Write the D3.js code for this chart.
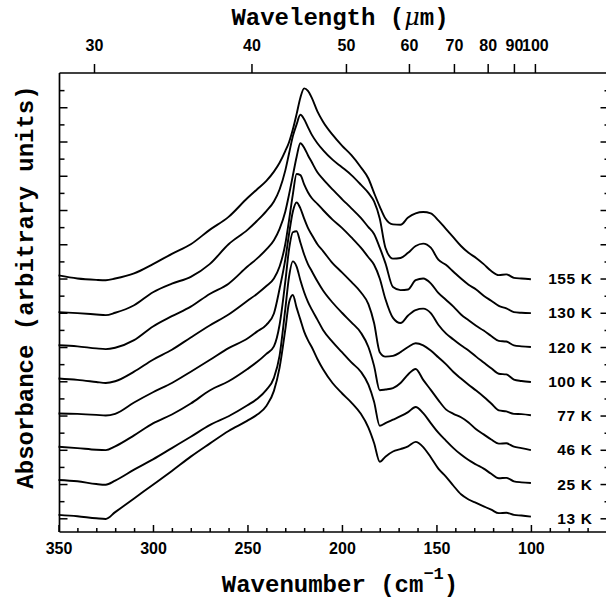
<!DOCTYPE html>
<html><head><meta charset="utf-8">
<script src="https://cdn.jsdelivr.net/npm/d3@7"></script>
<style>body{margin:0;background:#fff}svg{display:block}</style>
</head><body>
<svg id="c" width="606" height="604"></svg>
<script>
// ---- data ----
const wavenumbers = [350,340,330,325,320,310,300,290,280,270,260,250,245,240,236,233,230,228,226,224,222,220,218,216,213,210,205,200,195,190,186,183,180,177,173,169,165,161,157,153,149,145,141,137,133,129,125,121,117,113,109,105,100];
const temperatures = ["13 K","25 K","46 K","77 K","100 K","120 K","130 K","155 K"];
const abs13K = [0.10,0.06,0.00,-0.02,0.18, 0.58,0.98,1.38,1.80,2.18, 2.55,2.85,3.02,3.28,3.72, 4.40,5.50,6.30,6.52,6.15, 5.80,5.45,5.20,5.00,4.65, 4.35,3.95,3.65,3.38,3.05, 2.65,2.20,1.65,1.80,1.95, 2.02,2.10,2.23,2.08,1.78, 1.45,1.22,0.95,0.70,0.55, 0.45,0.35,0.25,0.15,0.16, 0.10,0.08,0.05];
const abs25K = [0.12,0.08,0.00,-0.02,0.10, 0.42,0.72,1.05,1.38,1.72, 1.98,2.30,2.48,2.75,3.10, 3.75,5.10,6.05,6.50,6.35, 5.95,5.60,5.32,5.10,4.80, 4.50,4.15,3.85,3.55,3.28, 2.90,2.40,1.70,1.78,1.88, 1.98,2.10,2.25,2.07,1.78, 1.50,1.27,1.05,0.86,0.70, 0.57,0.45,0.30,0.17,0.18, 0.08,0.05,0.03];
const abs46K = [0.09,0.05,0.00,-0.01,0.10, 0.42,0.77,1.03,1.35,1.73, 2.00,2.36,2.56,2.80,3.02, 3.65,4.90,5.85,6.35,6.38, 6.05,5.70,5.42,5.22,4.92, 4.65,4.30,4.00,3.72,3.42, 3.00,2.45,1.74,1.76,1.80, 1.95,2.20,2.36,2.04,1.75, 1.45,1.18,1.05,0.95,0.80, 0.60,0.45,0.30,0.18,0.19, 0.09,0.05,-0.01];
const abs77K = [0.06,0.05,0.02,0.00,0.05, 0.38,0.68,0.95,1.28,1.62, 1.97,2.25,2.45,2.65,2.98, 3.70,4.55,5.30,5.95,6.22, 6.05,5.75,5.48,5.28,5.00, 4.80,4.45,4.18,3.90,3.60, 3.25,2.70,1.85,1.72,1.74, 1.85,2.00,2.11,2.05,1.90, 1.70,1.50,1.27,1.08,0.90, 0.73,0.55,0.35,0.15,0.12, 0.05,0.04,0.01];
const abs100K = [0.08,0.04,-0.02,-0.05,0.00, 0.28,0.63,0.92,1.28,1.63, 1.95,2.35,2.55,2.78,3.00, 3.35,4.00,4.70,5.45,6.05, 6.02,5.75,5.52,5.35,5.18, 5.00,4.72,4.48,4.20,3.90, 3.62,3.40,3.00,2.40,1.85, 1.70,1.92,2.08,2.12,1.99, 1.65,1.40,1.22,1.05,0.90, 0.72,0.55,0.38,0.22,0.20, 0.05,0.01,-0.02];
const abs120K = [0.05,0.02,-0.04,-0.06,-0.02, 0.20,0.60,0.90,1.18,1.55, 1.85,2.35,2.58,2.85,3.12, 3.45,3.95,4.45,5.00,5.55, 5.95,5.82,5.60,5.40,5.10, 4.90,4.60,4.32,4.05,3.77, 3.50,3.30,2.90,2.45,1.75, 1.66,1.68,1.95,2.00,1.86, 1.58,1.38,1.18,0.95,0.78, 0.62,0.48,0.32,0.18,0.16, 0.05,0.02,0.00];
const abs130K = [0.02,-0.01,-0.05,-0.07,0.00, 0.22,0.60,0.85,1.05,1.42, 2.00,2.42,2.68,2.97,3.25, 3.60,4.15,4.65,5.15,5.50, 5.78,5.65,5.42,5.20,4.95, 4.75,4.47,4.25,4.02,3.74, 3.50,3.25,2.75,1.90,1.58, 1.60,1.75,1.95,2.02,1.90, 1.55,1.40,1.20,1.00,0.82, 0.68,0.50,0.35,0.20,0.13, 0.02,0.00,-0.01];
const abs155K = [0.09,0.00,-0.04,-0.05,0.00, 0.15,0.42,0.72,1.00,1.42, 1.80,2.35,2.60,2.85,3.12, 3.38,3.72,3.98,4.35,4.80, 5.28,5.55,5.48,5.28,4.88, 4.58,4.20,3.88,3.60,3.25, 2.92,2.50,2.10,1.75,1.58, 1.57,1.78,1.90,1.94,1.90, 1.70,1.45,1.20,0.95,0.75, 0.60,0.42,0.22,0.10,0.12, 0.02,0.00,-0.02];
const spectra = [abs13K,abs25K,abs46K,abs77K,abs100K,abs120K,abs130K,abs155K];
const wavenumberTicks = [350,300,250,200,150,100];
const wavelengthTicks = [30,40,50,60,70,80,90,100];

// ---- layout ----
const svg = d3.select("#c");
const L = 59.5, R = 606.5, T = 73, B = 532;
const x = d3.scaleLinear().domain([350,60]).range([58.5, R]);
const y = d3.scaleLinear().domain([-0.4,13]).range([B, T]);
const sans = "'Liberation Sans', Arial, sans-serif";
const mono = "'Liberation Mono', 'Courier New', monospace";

// frame
const frame = svg.append("g").attr("stroke","#000").attr("stroke-width",1.7).attr("fill","none");
frame.append("line").attr("x1",L).attr("x2",R).attr("y1",T).attr("y2",T);
frame.append("line").attr("x1",L).attr("x2",R).attr("y1",B).attr("y2",B);
frame.append("line").attr("x1",L).attr("x2",L).attr("y1",T).attr("y2",B);

function styleAxis(g){
  g.select(".domain").remove();
  g.selectAll(".tick line").attr("stroke","#000").attr("stroke-width",1.5);
  g.selectAll(".tick text").attr("fill","#000").attr("font-family",sans).attr("font-weight","bold").attr("font-size",16);
}

// bottom axis: major ticks with labels, minor ticks every 10
svg.append("g").attr("transform",`translate(0,${B})`)
  .call(d3.axisBottom(x).tickValues(wavenumberTicks).tickSizeInner(-7).tickSizeOuter(0).tickPadding(11).tickFormat(d3.format("d")))
  .call(styleAxis);
svg.append("g").attr("transform",`translate(0,${B})`)
  .call(d3.axisBottom(x).tickValues(d3.range(70,350,10).filter(v=>v%50!==0)).tickSizeInner(-4).tickSizeOuter(0).tickFormat(""))
  .call(styleAxis);

// top axis: wavelength in micrometres
svg.append("g").attr("transform",`translate(4,${T})`)
  .call(d3.axisTop(x).tickValues(wavelengthTicks.map(m=>1e4/m)).tickSizeInner(9).tickSizeOuter(0).tickPadding(13)
        .tickFormat((d,i)=>wavelengthTicks[i]))
  .call(styleAxis);

// left axis ticks (inward)
const yMajor = d3.range(0,13,1), yMinor = d3.range(0.5,13,1);
svg.append("g").attr("transform",`translate(${L},0)`)
  .call(d3.axisRight(y).tickValues(yMajor).tickSizeInner(8).tickSizeOuter(0).tickFormat("")).call(styleAxis);
svg.append("g").attr("transform",`translate(${L},0)`)
  .call(d3.axisRight(y).tickValues(yMinor).tickSizeInner(5).tickSizeOuter(0).tickFormat("")).call(styleAxis);
// right axis ticks (inward)
svg.append("g").attr("transform",`translate(${R},0)`)
  .call(d3.axisLeft(y).tickValues(yMajor).tickSizeInner(6).tickSizeOuter(0).tickFormat("")).call(styleAxis);
svg.append("g").attr("transform",`translate(${R},0)`)
  .call(d3.axisLeft(y).tickValues(yMinor).tickSizeInner(2).tickSizeOuter(0).tickFormat("")).call(styleAxis);

// spectra, each offset by one unit
const line = d3.line().x(d=>x(d[0])).y(d=>y(d[1])).curve(d3.curveMonotoneX);
spectra.forEach((vals,i)=>{
  const pts = wavenumbers.map((w,k)=>[w, vals[k]+i]);
  svg.append("path").datum(pts).attr("d",line)
    .attr("fill","none").attr("stroke","#000").attr("stroke-width",1.9).attr("stroke-linejoin","round");
  svg.append("text").attr("x",592.5).attr("y",y(i)).attr("dy","0.36em")
    .attr("text-anchor","end").attr("font-family",sans).attr("font-weight","bold").attr("font-size",15.5)
    .attr("letter-spacing",0.6).text(temperatures[i]);
});

// titles
svg.append("text").attr("x",340).attr("y",25).attr("text-anchor","middle")
  .attr("font-family",mono).attr("font-weight","bold").attr("font-size",24)
  .call(t=>{ t.append("tspan").text("Wavelength (");
             t.append("tspan").attr("font-family","'DejaVu Serif', serif").attr("font-style","italic").attr("font-weight","normal").text("μ");
             t.append("tspan").text("m)"); });

const xl = svg.append("text").attr("x",340).attr("y",592).attr("text-anchor","middle")
  .attr("font-family",mono).attr("font-weight","bold").attr("font-size",24);
xl.append("tspan").text("Wavenumber (cm");
xl.append("tspan").attr("font-size",17).attr("dy",-13).text("−1");
xl.append("tspan").attr("dy",13).text(")");

svg.append("text").attr("transform","translate(33,287) rotate(-90)").attr("text-anchor","middle")
  .attr("font-family",mono).attr("font-weight","bold").attr("font-size",24).text("Absorbance (arbitrary units)");
</script>
</body></html>
